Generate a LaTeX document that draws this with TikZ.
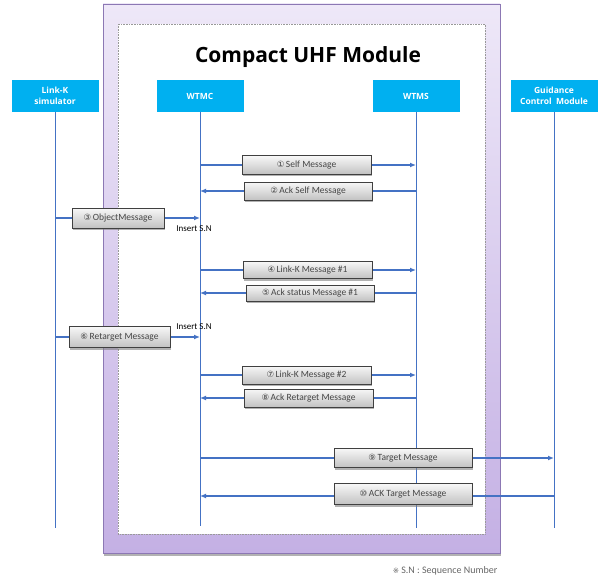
\documentclass[tikz,border=0pt]{standalone}
\usepackage{fontspec}
\setmainfont{Carlito}
\newfontfamily\symfont{DejaVu Sans}
\newfontfamily\headfont{Open Sans}
\usetikzlibrary{arrows.meta,shadows}
\pgfdeclarelayer{frame}
\pgfdeclarelayer{wires}
\pgfsetlayers{frame,wires,main}
\definecolor{lifeblue}{RGB}{68,114,196}
\definecolor{headcyan}{RGB}{0,176,240}
\definecolor{frametop}{RGB}{238,232,248}
\definecolor{framebot}{RGB}{196,176,228}
\definecolor{frameedge}{RGB}{140,120,180}
\definecolor{msgtext}{RGB}{70,70,70}
\newcommand{\circnum}[1]{{\symfont\fontsize{8.5}{10}\selectfont #1}\,}
\tikzset{
  x=1pt, y=-1pt,
  header/.style={fill=headcyan, text=white, font=\headfont\bfseries\fontsize{8.5}{10.5}\selectfont,
    minimum width=87pt, minimum height=32pt, inner sep=0pt, align=center},
  msgbox/.style={draw=black!75, line width=1pt, top color=black!3, bottom color=black!24,
    text=msgtext, font=\fontsize{9.5}{11}\selectfont, inner sep=0pt,
    drop shadow={shadow xshift=1pt, shadow yshift=-2pt, fill=black!50, opacity=0.6}},
  life/.style={draw=lifeblue, line width=0.9pt},
  msg/.style={draw=lifeblue, line width=1.4pt, -{Latex[length=6pt,width=5pt]}},
  note/.style={font=\fontsize{9}{10}\selectfont, inner sep=0pt}
}
\begin{document}
\begin{tikzpicture}
\useasboundingbox (0,0) rectangle (598,578);

% module frame with white inner panel
\begin{pgfonlayer}{frame}
  \fill[black!30] (104,6) rectangle (501,556);
  \draw[frameedge, line width=0.6pt, top color=frametop, bottom color=framebot] (103,4) rectangle (500,553);
  \draw[black!40, densely dotted, line width=0.6pt, fill=white] (118,24) rectangle (485,534);
\end{pgfonlayer}

\node[anchor=base] (title) at (308,63) {\headfont\bfseries\fontsize{21}{25}\selectfont Compact UHF Module};

% participants
\node[header] (lk)   at (55,96)  {Link-K\\simulator};
\node[header] (wtmc) at (200,96) {WTMC};
\node[header] (wtms) at (416,96) {WTMS};
\node[header] (gcm)  at (554,96) {Guidance\\Control\ \ Module};

\coordinate (lkend)   at (55,528);
\coordinate (wtmcend) at (200,526);
\coordinate (wtmsend) at (416,528);
\coordinate (gcmend)  at (554,528);

% messages
\node[msgbox, minimum width=129pt, minimum height=18pt] (m1)  at (306.5,165) {\circnum{①}Self Message};
\node[msgbox, minimum width=128pt, minimum height=18pt] (m2)  at (308,191)   {\circnum{②}Ack Self Message};
\node[msgbox, minimum width=92pt,  minimum height=20pt] (m3)  at (118,218)   {\circnum{③}ObjectMessage};
\node[msgbox, minimum width=129pt, minimum height=17pt] (m4)  at (307.5,270) {\circnum{④}Link-K Message \#1};
\node[msgbox, minimum width=128pt, minimum height=16pt] (m5)  at (310,293)   {\circnum{⑤}Ack status Message \#1};
\node[msgbox, minimum width=101pt, minimum height=21pt] (m6)  at (119.5,337) {\circnum{⑥}Retarget Message};
\node[msgbox, minimum width=129pt, minimum height=18pt] (m7)  at (306.5,375) {\circnum{⑦}Link-K Message \#2};
\node[msgbox, minimum width=129pt, minimum height=18pt] (m8)  at (308.5,398) {\circnum{⑧}Ack Retarget Message};
\node[msgbox, minimum width=138pt, minimum height=19pt] (m9)  at (403,458)   {\circnum{⑨}Target Message};
\node[msgbox, minimum width=138pt, minimum height=21pt] (m10) at (403,494)   {\circnum{⑩}ACK Target Message};

\node[note] (sn1) at (194,229) {Insert S.N};
\node[note] (sn2) at (194,327) {Insert S.N};
\node[note, text=black!60, font=\fontsize{10}{11}\selectfont] (foot) at (445,571)
  {{\symfont\fontsize{7.5}{9}\selectfont ※} S.N : Sequence Number};

% lifelines and message arrows
\begin{pgfonlayer}{wires}
  \draw[life] (lk) -- (lkend);
  \draw[life] (wtmc) -- (wtmcend);
  \draw[life] (wtms) -- (wtmsend);
  \draw[life] (gcm) -- (gcmend);
  \draw[msg] (wtmc |- m1)  -- (wtms |- m1);
  \draw[msg] (wtms |- m2)  -- (wtmc |- m2);
  \draw[msg] (lk |- m3)    -- (wtmc |- m3);
  \draw[msg] (wtmc |- m4)  -- (wtms |- m4);
  \draw[msg] (wtms |- m5)  -- (wtmc |- m5);
  \draw[msg] (lk |- m6)    -- (wtmc |- m6);
  \draw[msg] (wtmc |- m7)  -- (wtms |- m7);
  \draw[msg] (wtms |- m8)  -- (wtmc |- m8);
  \draw[msg] (wtmc |- m9)  -- (gcm |- m9);
  \draw[msg] ([yshift=-2pt]gcm |- m10) -- ([yshift=-2pt]wtmc |- m10);
\end{pgfonlayer}
\end{tikzpicture}
\end{document}
